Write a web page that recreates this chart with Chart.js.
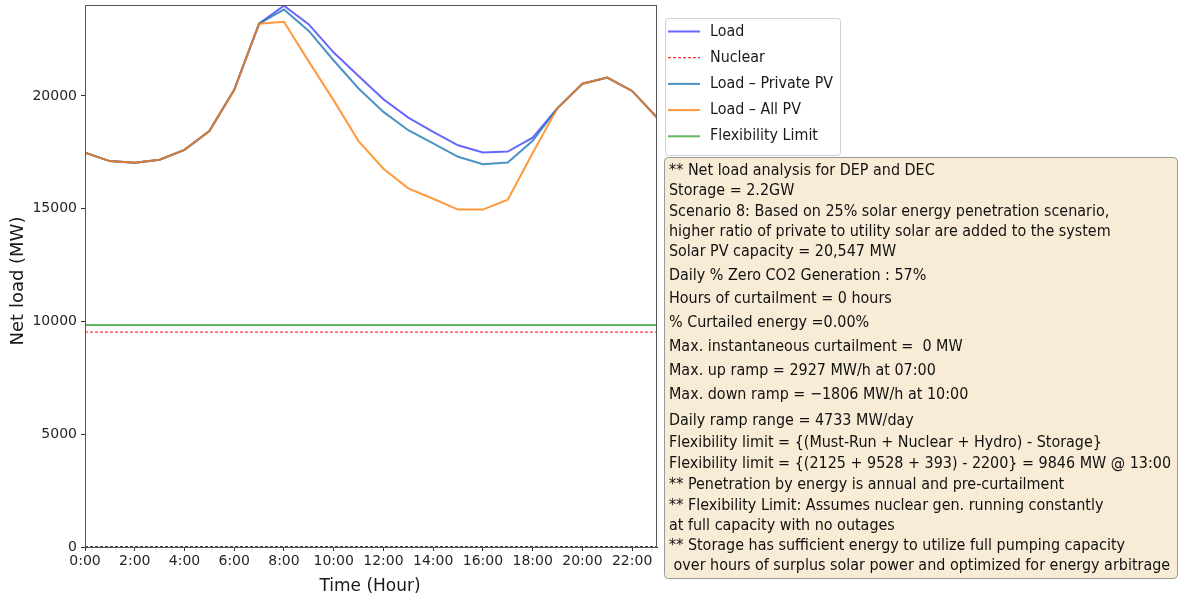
<!DOCTYPE html>
<html>
<head>
<meta charset="utf-8">
<script src="https://cdn.jsdelivr.net/npm/chart.js@4.4.1/dist/chart.umd.min.js"></script>
<style>
  html, body { margin: 0; padding: 0; background: #fff; }
  #wrap { position: relative; width: 1184px; height: 598px; }
</style>
</head>
<body>
<div id="wrap"><canvas id="chart" width="1184" height="598"></canvas></div>
<script>
// hours of the day (x values)
const hours = [0,1,2,3,4,5,6,7,8,9,10,11,12,13,14,15,16,17,18,19,20,21,22,23];

// net load series (MW)
const load       = [17480,17110,17040,17170,17610,18440,20270,23200,24000,23170,21920,20880,19850,19040,18400,17810,17490,17530,18150,19460,20540,20810,20220,19040];
const loadPrivPV = [17480,17110,17040,17170,17610,18440,20270,23200,23830,22880,21570,20330,19290,18480,17890,17300,16970,17050,18010,19460,20540,20810,20220,19040];
const loadAllPV  = [17480,17110,17040,17170,17610,18440,20270,23200,23290,21520,19800,17994,16770,15900,15440,14960,14960,15400,17470,19460,20540,20810,20220,19040];
const nuclear    = Array(24).fill(9528);
const flexLimit  = Array(24).fill(9846);
const curtailed  = Array(24).fill(0);

const yTicks = [0, 5000, 10000, 15000, 20000];
const xTicks = [0,2,4,6,8,10,12,14,16,18,20,22];

const legendLabels = ['Load', 'Nuclear', 'Load \u2013 Private PV', 'Load \u2013 All PV', 'Flexibility Limit'];

const noteLines = [
  '** Net load analysis for DEP and DEC',
  'Storage = 2.2GW',
  'Scenario 8: Based on 25% solar energy penetration scenario,',
  'higher ratio of private to utility solar are added to the system',
  'Solar PV capacity = 20,547 MW',
  'Daily % Zero CO2 Generation : 57%',
  'Hours of curtailment = 0 hours',
  '% Curtailed energy =0.00%',
  'Max. instantaneous curtailment =  0 MW',
  'Max. up ramp = 2927 MW/h at 07:00',
  'Max. down ramp = \u22121806 MW/h at 10:00',
  'Daily ramp range = 4733 MW/day',
  'Flexibility limit = {(Must-Run + Nuclear + Hydro) - Storage}',
  'Flexibility limit = {(2125 + 9528 + 393) - 2200} = 9846 MW @ 13:00',
  '** Penetration by energy is annual and pre-curtailment',
  '** Flexibility Limit: Assumes nuclear gen. running constantly',
  'at full capacity with no outages',
  '** Storage has sufficient energy to utilize full pumping capacity',
  ' over hours of surplus solar power and optimized for energy arbitrage'
];
const noteY = [171,191,212,232,252,276,299,323,347,371,395,421,443,464,485,506,526,546,566];

const pts = arr => hours.map((h, i) => ({ x: h, y: arr[i] }));

Chart.defaults.font.family = "'DejaVu Sans', sans-serif";
Chart.defaults.color = '#262626';

// draws the frame, axis titles, legend and the note box
const extras = {
  id: 'extras',
  afterDraw(chart) {
    const ctx = chart.ctx;
    const a = chart.chartArea;
    ctx.save();

    // plot frame
    ctx.strokeStyle = '#555';
    ctx.lineWidth = 1;
    ctx.strokeRect(a.left + 0.5, a.top + 0.5, a.right - a.left - 1, a.bottom - a.top);

    // axis titles
    ctx.fillStyle = '#1a1a1a';
    ctx.textAlign = 'center';
    ctx.textBaseline = 'middle';
    ctx.font = "17px 'DejaVu Sans'";
    ctx.fillText('Time (Hour)', 370, 587);
    ctx.save();
    ctx.translate(18, 281);
    ctx.rotate(-Math.PI / 2);
    ctx.font = "18px 'DejaVu Sans'";
    ctx.fillText('Net load (MW)', 0, 0);
    ctx.restore();

    // legend
    const lx = 665, ly = 18, lw = 175, lh = 137;
    ctx.beginPath();
    ctx.roundRect(lx + 0.5, ly + 0.5, lw, lh, 3);
    ctx.fillStyle = 'rgba(255,255,255,0.9)';
    ctx.fill();
    ctx.strokeStyle = '#d0d0d0';
    ctx.stroke();
    const legendDs = [0, 1, 2, 3, 4];
    ctx.font = "16px 'DejaVu Sans'";
    const lScale = 123 / ctx.measureText(legendLabels[2]).width;
    legendDs.forEach((di, i) => {
      const ds = chart.data.datasets[di];
      const y = 31.5 + i * 26.2;
      ctx.beginPath();
      ctx.setLineDash(ds.borderDash || []);
      ctx.strokeStyle = ds.borderColor;
      ctx.lineWidth = ds.borderWidth;
      ctx.moveTo(668, y);
      ctx.lineTo(700, y);
      ctx.stroke();
      ctx.setLineDash([]);
      ctx.save();
      ctx.translate(710, y);
      ctx.scale(lScale, 1);
      ctx.fillStyle = '#1a1a1a';
      ctx.textAlign = 'left';
      ctx.fillText(legendLabels[i], 0, 0);
      ctx.restore();
    });

    // note box
    ctx.beginPath();
    ctx.roundRect(664.5, 157.5, 513, 421, 4);
    ctx.fillStyle = '#f9ecd7';
    ctx.fill();
    ctx.strokeStyle = '#9a9a9a';
    ctx.lineWidth = 1;
    ctx.stroke();
    ctx.font = "16px 'DejaVu Sans'";
    const nScale = 502 / ctx.measureText(noteLines[13]).width;
    ctx.fillStyle = '#111';
    ctx.textAlign = 'left';
    noteLines.forEach((t, i) => {
      ctx.save();
      ctx.translate(669, noteY[i]);
      ctx.scale(nScale, 1);
      ctx.fillText(t, 0, 0);
      ctx.restore();
    });

    ctx.restore();
  }
};

new Chart(document.getElementById('chart'), {
  type: 'line',
  data: {
    datasets: [
      { label: 'Load', data: pts(load), borderColor: 'rgba(0,0,255,0.6)', borderWidth: 2, order: 2 },
      { label: 'Nuclear', data: pts(nuclear), borderColor: '#ff0000', borderWidth: 1, borderDash: [3, 2], order: 3 },
      { label: 'Load - Private PV', data: pts(loadPrivPV), borderColor: 'rgba(31,119,180,0.8)', borderWidth: 2, order: 1 },
      { label: 'Load - All PV', data: pts(loadAllPV), borderColor: 'rgba(255,127,14,0.8)', borderWidth: 2, order: 0 },
      { label: 'Flexibility Limit', data: pts(flexLimit), borderColor: 'rgba(44,160,44,0.75)', borderWidth: 2, order: 4 },
      { label: 'Curtailment', data: pts(curtailed), borderColor: '#000', borderWidth: 1.5, borderDash: [3, 2], order: 5 }
    ]
  },
  options: {
    responsive: false,
    animation: false,
    layout: { padding: { top: 5, right: 527, left: 0, bottom: 0 } },
    elements: { point: { radius: 0 }, line: { tension: 0, fill: false } },
    plugins: { legend: { display: false }, tooltip: { enabled: false }, title: { display: false } },
    scales: {
      x: {
        type: 'linear',
        min: 0,
        max: 23,
        afterBuildTicks: s => { s.ticks = xTicks.map(v => ({ value: v })); },
        afterFit: s => { s.height = 51; s.paddingLeft = 0; s.paddingRight = 0; },
        grid: { drawOnChartArea: false, drawTicks: true, tickLength: 4, tickColor: '#333' },
        border: { display: true, color: '#333' },
        ticks: {
          font: { size: 14 },
          color: '#262626',
          padding: 2,
          maxRotation: 0,
          autoSkip: false,
          callback: v => v + ':00'
        }
      },
      y: {
        min: 0,
        max: 24030,
        afterBuildTicks: s => { s.ticks = yTicks.map(v => ({ value: v })); },
        afterFit: s => { s.width = 85; s.paddingTop = 0; s.paddingBottom = 0; },
        grid: { drawOnChartArea: false, drawTicks: true, tickLength: 4, tickColor: '#333' },
        border: { display: true, color: '#333' },
        ticks: { font: { size: 14 }, color: '#262626', padding: 4, callback: v => String(v) }
      }
    }
  },
  plugins: [extras]
});
</script>
</body>
</html>
